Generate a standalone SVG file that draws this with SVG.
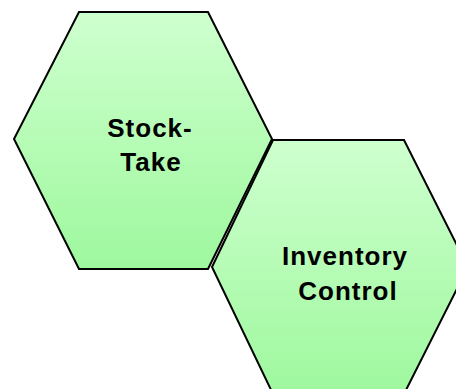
<svg xmlns="http://www.w3.org/2000/svg" width="456" height="389" viewBox="0 0 456 389">
  <defs>
    <linearGradient id="g1" gradientUnits="userSpaceOnUse" x1="0" y1="12" x2="0" y2="269">
      <stop offset="0" stop-color="#ceffce"/>
      <stop offset="1" stop-color="#9ef89e"/>
    </linearGradient>
    <linearGradient id="g2" gradientUnits="userSpaceOnUse" x1="0" y1="140" x2="0" y2="394">
      <stop offset="0" stop-color="#ceffce"/>
      <stop offset="1" stop-color="#9ef89e"/>
    </linearGradient>
  </defs>
  <style>
    .hex { stroke: #000; stroke-width: 2; stroke-linejoin: miter; }
    .lbl { font-family: "Liberation Sans", Arial, sans-serif; font-weight: bold; font-size: 26px; fill: #000; text-anchor: middle; letter-spacing: 1px; }
  </style>
  <g id="connectors"/>
  <g id="stock-take">
    <polygon class="hex" fill="url(#g1)" points="79,12 208,12 272,139 208,269 79,269 14,139"/>
    <text class="lbl" x="150" y="137">Stock-</text>
    <text class="lbl" x="151" y="171">Take</text>
  </g>
  <g id="inventory-control">
    <polygon class="hex" fill="url(#g2)" points="273,140 404,140 468,267 404,394 273,394 212,267"/>
    <text class="lbl" x="345" y="265">Inventory</text>
    <text class="lbl" x="348" y="300">Control</text>
  </g>
</svg>
